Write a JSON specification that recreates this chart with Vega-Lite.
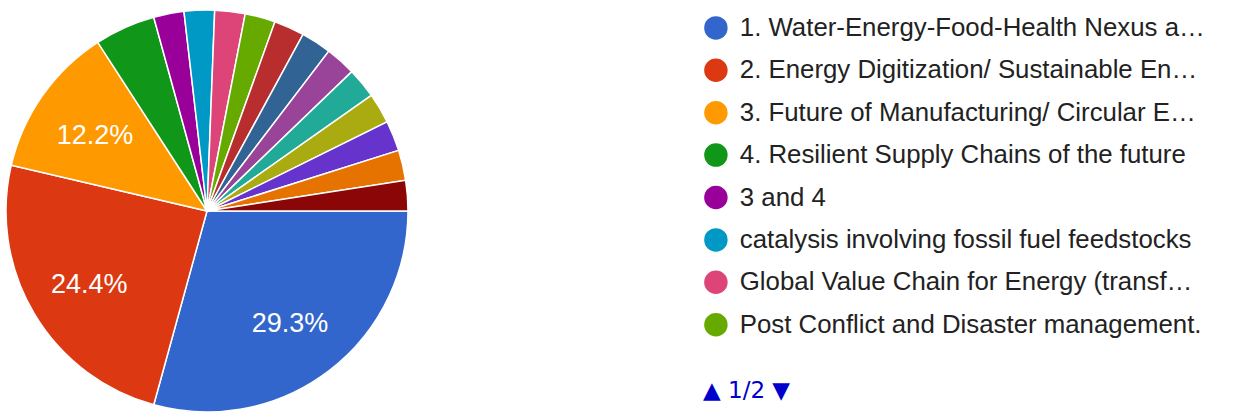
{
  "$schema": "https://vega.github.io/schema/vega-lite/v6.json",
  "width": 414,
  "height": 422,
  "padding": 0,
  "autosize": {"type": "pad"},
  "background": "white",
  "data": {
    "values": [
      {"idx": 1, "topic": "1. Water-Energy-Food-Health Nexus a…", "count": 12, "label": "29.3%"},
      {"idx": 2, "topic": "2. Energy Digitization/ Sustainable En…", "count": 10, "label": "24.4%"},
      {"idx": 3, "topic": "3. Future of Manufacturing/ Circular E…", "count": 5, "label": "12.2%"},
      {"idx": 4, "topic": "4. Resilient Supply Chains of the future", "count": 2, "label": ""},
      {"idx": 5, "topic": "3 and 4", "count": 1, "label": ""},
      {"idx": 6, "topic": "catalysis involving fossil fuel feedstocks", "count": 1, "label": ""},
      {"idx": 7, "topic": "Global Value Chain for Energy (transf…", "count": 1, "label": ""},
      {"idx": 8, "topic": "Post Conflict and Disaster management.", "count": 1, "label": ""},
      {"idx": 9, "topic": "Option 9", "count": 1, "label": ""},
      {"idx": 10, "topic": "Option 10", "count": 1, "label": ""},
      {"idx": 11, "topic": "Option 11", "count": 1, "label": ""},
      {"idx": 12, "topic": "Option 12", "count": 1, "label": ""},
      {"idx": 13, "topic": "Option 13", "count": 1, "label": ""},
      {"idx": 14, "topic": "Option 14", "count": 1, "label": ""},
      {"idx": 15, "topic": "Option 15", "count": 1, "label": ""},
      {"idx": 16, "topic": "Option 16", "count": 1, "label": ""}
    ]
  },
  "encoding": {
    "theta": {"field": "count", "type": "quantitative", "stack": true, "scale": {"range": [1.5708, 7.854]}},
    "order": {"field": "idx", "type": "quantitative"}
  },
  "layer": [
    {
      "mark": {"type": "arc", "outerRadius": 201, "stroke": "white", "strokeWidth": 1.5},
      "encoding": {
        "color": {
          "field": "topic",
          "type": "nominal",
          "sort": {"field": "idx"},
          "scale": {
            "domain": ["1. Water-Energy-Food-Health Nexus a…", "2. Energy Digitization/ Sustainable En…", "3. Future of Manufacturing/ Circular E…", "4. Resilient Supply Chains of the future", "3 and 4", "catalysis involving fossil fuel feedstocks", "Global Value Chain for Energy (transf…", "Post Conflict and Disaster management.", "Option 9", "Option 10", "Option 11", "Option 12", "Option 13", "Option 14", "Option 15", "Option 16"],
            "range": ["#3366cc", "#dc3912", "#ff9900", "#109618", "#990099", "#0099c6", "#dd4477", "#66aa00", "#b82e2e", "#316395", "#994499", "#22aa99", "#aaaa11", "#6633cc", "#e67300", "#8b0707"]
          },
          "legend": {
            "values": ["1. Water-Energy-Food-Health Nexus a…", "2. Energy Digitization/ Sustainable En…", "3. Future of Manufacturing/ Circular E…", "4. Resilient Supply Chains of the future", "3 and 4", "catalysis involving fossil fuel feedstocks", "Global Value Chain for Energy (transf…", "Post Conflict and Disaster management."],
            "orient": "none",
            "legendX": 703,
            "legendY": 15,
            "title": "▲ 1/2 ▼",
            "titleOrient": "bottom",
            "titleAnchor": "start",
            "titleColor": "#0000cc",
            "titleFont": "DejaVu Sans",
            "titleFontSize": 23,
            "titleFontWeight": "normal",
            "titlePadding": 42,
            "symbolType": "circle",
            "symbolSize": 550,
            "symbolStrokeWidth": 0,
            "labelFont": "Liberation Sans",
            "labelFontSize": 25.8,
            "labelColor": "#222222",
            "labelLimit": 560,
            "labelOffset": 11,
            "rowPadding": 15.4
          }
        }
      }
    },
    {
      "mark": {"type": "text", "radius": 137, "dy": 4, "fill": "white", "font": "Liberation Sans", "fontSize": 27},
      "encoding": {"text": {"field": "label"}}
    }
  ]
}
